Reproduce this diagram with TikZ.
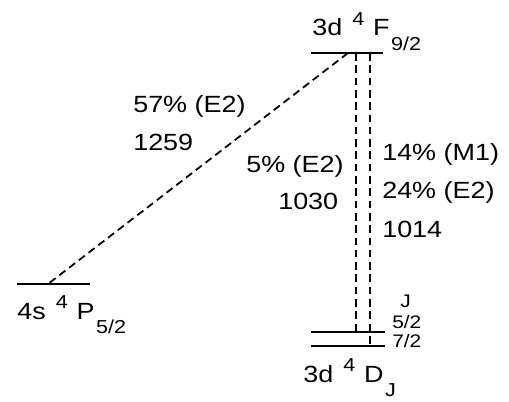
\documentclass[tikz,border=0pt]{standalone}
\usepackage{fontspec}
\setmainfont{Liberation Sans}
\newcommand{\lvlup}[1]{\hspace{2pt}\raisebox{9pt}{\fontsize{16}{16}\selectfont #1}\hspace{1pt}}
\newcommand{\lvldn}[1]{\hspace{1pt}\raisebox{-12pt}{\fontsize{16}{16}\selectfont #1}}
\tikzset{level/.style={line width=1.7pt},
  trans/.style={line width=1.5pt, dash pattern=on 6.5pt off 4pt},
  lbl/.style={anchor=base west, inner sep=0pt},
  jlbl/.style={lbl, font=\fontsize{15.5}{17}\selectfont}}
\begin{document}
\begin{tikzpicture}[every node/.style={font=\fontsize{20}{24}\selectfont, xscale=1.15}]
  \useasboundingbox (0,0) rectangle (15.27,12.03);
  % levels
  \coordinate (f0) at (9.33,10.44);  \coordinate (f1) at (11.49,10.44);
  \coordinate (p0) at (0.51,3.51);   \coordinate (p1) at (2.70,3.51);
  \coordinate (da0) at (9.33,2.07);  \coordinate (da1) at (11.55,2.07);
  \coordinate (db0) at (9.33,1.65);  \coordinate (db1) at (11.55,1.65);
  \draw[level] (f0) -- (f1);
  \draw[level] (p0) -- (p1);
  \draw[level] (da0) -- (da1);
  \draw[level] (db0) -- (db1);
  % transitions
  \coordinate (ft0) at (10.44,10.44); \coordinate (pt) at (1.44,3.51);
  \coordinate (ft1) at (10.68,10.44); \coordinate (dt1) at (10.68,2.07);
  \coordinate (ft2) at (11.10,10.44); \coordinate (dt2) at (11.10,1.65);
  \draw[trans] (ft0) -- (pt);
  \draw[trans] (ft1) -- (dt1);
  \draw[trans] (ft2) -- (dt2);
  % labels
  \node[lbl] (fl) at (9.36,10.95) {3d \lvlup{4} F\lvldn{9/2}};
  \node[lbl] (pl) at (0.51,2.46) {4s \lvlup{4} P\lvldn{5/2}};
  \node[lbl] (dl) at (9.09,0.57) {3d \lvlup{4} D\lvldn{J}};
  \node[lbl] (a1) at (3.99,8.64) {57\% (E2)};
  \node[lbl] (a2) at (3.99,7.50) {1259};
  \node[lbl] (b1) at (7.38,6.87) {5\% (E2)};
  \node[lbl] (b2) at (8.34,5.76) {1030};
  \node[lbl] (c1) at (11.46,7.23) {14\% (M1)};
  \node[lbl] (c2) at (11.46,6.06) {24\% (E2)};
  \node[lbl] (c3) at (11.46,4.92) {1014};
  \node[jlbl] (jl) at (12.00,2.82) {J};
  \node[jlbl] (j1) at (11.76,2.18) {5/2};
  \node[jlbl] (j2) at (11.76,1.60) {7/2};
\end{tikzpicture}
\end{document}
